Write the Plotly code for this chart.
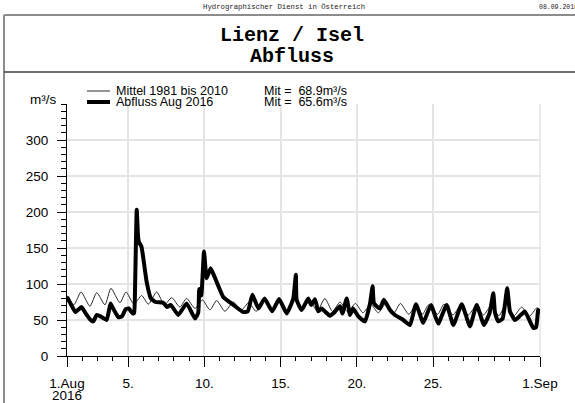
import plotly.graph_objects as go

# Mean hydrograph 1981-2010, days since 1 Aug 00:00 -> m³/s
mittel_tag = [0.0, 0.45, 0.92, 1.5, 1.95, 2.49, 2.88, 3.47, 3.87, 4.38, 4.89, 5.33, 5.88,
              6.38, 6.86, 7.4, 7.84, 8.39, 8.87, 9.37, 9.81, 10.35, 10.9, 11.4, 11.9,
              12.4, 12.9, 13.4, 13.9, 14.4, 14.9, 15.4, 15.9, 16.4, 16.9, 17.4, 17.9,
              18.4, 18.9, 19.4, 19.9, 20.4, 20.9, 21.4, 21.85, 22.4, 22.85, 23.3, 23.7,
              24.3, 24.7, 25.3, 25.8, 26.3, 26.8, 27.3, 27.8, 28.3, 28.8, 29.3, 29.8,
              30.3, 30.8, 31.0]
mittel_q = [84, 71, 89, 69, 88, 71, 94, 74, 89, 72, 84, 72, 89,
            71, 81, 68, 80, 66, 78, 64, 77, 62, 75, 63, 74,
            62, 78, 63, 77, 62, 78, 63, 78, 62, 80, 62, 75,
            61, 73, 60, 72, 60, 73, 59, 73, 58, 70, 58, 71,
            58, 72, 57, 70, 57, 69, 57, 70, 56, 72, 56, 68,
            55, 67, 64]

# Discharge August 2016
abfluss_tag = [0.0, 0.3, 0.55, 0.95, 1.2, 1.55, 1.72, 1.95, 2.2, 2.6, 2.85, 3.05, 3.36,
               3.6, 3.85, 4.05, 4.3, 4.4, 4.46, 4.57, 4.66, 4.72, 4.88, 5.22, 5.5, 5.8,
               6.3, 6.55, 6.8, 7.29, 7.84, 8.39, 8.6, 8.67, 8.8, 8.98, 9.15, 9.41, 9.63,
               10.24, 10.9, 11.55, 11.85, 12.15, 12.55, 12.95, 13.45, 13.9, 14.4, 14.83,
               15.0, 15.05, 15.38, 15.81, 16.0, 16.25, 16.47, 16.7, 16.9, 17.23, 17.5,
               17.89, 18.05, 18.33, 18.55, 18.75, 19.09, 19.53, 19.86, 20.03, 20.12,
               20.51, 20.77, 21.17, 21.49, 22.04, 22.48, 22.87, 23.35, 23.85, 24.33,
               24.88, 25.32, 25.87, 26.41, 26.85, 27.33, 27.7, 27.94, 28.05, 28.26,
               28.55, 28.85, 29.03, 29.36, 29.65, 30.01, 30.56, 30.75, 30.88, 31.0]
abfluss_q = [82, 70, 61, 68, 60, 50, 48, 57, 55, 50, 73, 65, 54,
             55, 65, 66, 59, 60, 95, 203, 165, 158, 152, 103, 80, 75,
             74, 68, 71, 57, 73, 52, 60, 93, 84, 145, 108, 122, 112,
             82, 71, 61, 62, 85, 66, 80, 62, 79, 59, 80,
             113, 78, 64, 80, 71, 79, 62, 66, 62, 56, 60,
             69, 59, 80, 57, 66, 55, 48, 73, 97, 73,
             66, 78, 64, 57, 50, 43, 72, 46, 71, 45,
             71, 43, 72, 41, 71, 43, 60, 87, 60, 48,
             52, 94, 62, 50, 55, 62, 39, 40, 64, 59]

tick_tage = [0, 4, 9, 14, 19, 24, 31]
tick_texte = ["1.Aug", "5.", "10.", "15.", "20.", "25.", "1.Sep"]
jahr = "2016"
y_ticks = [0, 50, 100, 150, 200, 250, 300]

W, H = 575, 403
L, R, T, B = 67, 35, 104, 47
PW, PH = W - L - R, H - T - B


def px(x):
    return (x - L) / PW


def py(y):
    return (H - B - y) / PH


SANS = "Liberation Sans, Arial, sans-serif"
MONO = "Liberation Mono, Courier New, monospace"

fig = go.Figure()
fig.add_trace(go.Scatter(x=mittel_tag, y=mittel_q, mode="lines",
                         line=dict(color="#2a2a2a", width=1, shape="spline", smoothing=0.6),
                         showlegend=False))
fig.add_trace(go.Scatter(x=abfluss_tag, y=abfluss_q, mode="lines",
                         line=dict(color="black", width=4, shape="spline", smoothing=0.4),
                         showlegend=False))

grid = "#e4e4e4"
fig.update_xaxes(range=[0, 31], tickmode="array", tickvals=tick_tage, ticktext=tick_texte,
                 ticks="outside", ticklen=10, tickwidth=1, tickcolor="black",
                 showline=True, linecolor="black", linewidth=1.2,
                 showgrid=True, gridcolor=grid, gridwidth=1.5, zeroline=False,
                 automargin=False, ticklabelstandoff=5,
                 minor=dict(tick0=0, dtick=1, ticks="outside", ticklen=4,
                            tickcolor="black", tickwidth=1, showgrid=False),
                 tickfont=dict(family=SANS, size=13.5, color="black"))
fig.update_yaxes(range=[0, 350], tickmode="array", tickvals=y_ticks,
                 ticks="outside", ticklen=9, tickwidth=1, tickcolor="black",
                 showline=True, linecolor="black", linewidth=1.2,
                 showgrid=True, gridcolor=grid, gridwidth=1.5, zeroline=False,
                 automargin=False, ticklabelstandoff=6,
                 minor=dict(tick0=0, dtick=10, ticks="outside", ticklen=5,
                            tickcolor="black", tickwidth=1, showgrid=False),
                 tickfont=dict(family=SANS, size=13.5, color="black"))

shapes = [
    # outer frame and title divider
    dict(type="line", xref="paper", yref="paper", x0=px(4), x1=px(4), y0=py(15), y1=py(410),
         line=dict(color="#8c8c8c", width=2)),
    dict(type="line", xref="paper", yref="paper", x0=px(4), x1=px(590), y0=py(15), y1=py(15),
         line=dict(color="#8c8c8c", width=2)),
    dict(type="line", xref="paper", yref="paper", x0=px(4), x1=px(590), y0=py(72), y1=py(72),
         line=dict(color="#404040", width=1.5)),
    # right edge grid line
    dict(type="line", xref="paper", yref="paper", x0=1, x1=1, y0=0, y1=1,
         line=dict(color=grid, width=1.5), layer="below"),
    # legend samples
    dict(type="line", xref="paper", yref="paper", x0=px(87), x1=px(110), y0=py(91), y1=py(91),
         line=dict(color="#2a2a2a", width=1)),
    dict(type="line", xref="paper", yref="paper", x0=px(87), x1=px(110), y0=py(102), y1=py(102),
         line=dict(color="black", width=4)),
]

annos = [
    dict(x=px(284), y=py(7), text="Hydrographischer Dienst in Österreich",
         font=dict(family=MONO, size=7.3, color="#222"), xanchor="center"),
    dict(x=px(537), y=py(7), text="08.09.2016 11:15",
         font=dict(family=MONO, size=6.5, color="#222"), xanchor="left"),
    dict(x=px(292), y=py(35), text="<b>Lienz / Isel</b>",
         font=dict(family=MONO, size=20, color="black"), xanchor="center"),
    dict(x=px(292), y=py(56), text="<b>Abfluss</b>",
         font=dict(family=MONO, size=20, color="black"), xanchor="center"),
    dict(x=px(28), y=py(99), text="m³/s",
         font=dict(family=SANS, size=13.5, color="black"), xanchor="left"),
    dict(x=px(114), y=py(91), text="Mittel 1981 bis 2010",
         font=dict(family=SANS, size=12.5, color="black"), xanchor="left"),
    dict(x=px(114), y=py(102), text="Abfluss Aug 2016",
         font=dict(family=SANS, size=12.5, color="black"), xanchor="left"),
    dict(x=px(262), y=py(91), text="Mit =\u00a0\u00a068.9m³/s",
         font=dict(family=SANS, size=12.5, color="black"), xanchor="left"),
    dict(x=px(262), y=py(102), text="Mit =\u00a0\u00a065.6m³/s",
         font=dict(family=SANS, size=12.5, color="black"), xanchor="left"),
    # year under the first date tick
    dict(x=0, y=py(396), text=jahr,
         font=dict(family=SANS, size=13.5, color="black"), xanchor="center"),
]
for a in annos:
    a.update(xref="paper", yref="paper", yanchor="middle", showarrow=False)

fig.update_layout(width=W, height=H, margin=dict(l=L, r=R, t=T, b=B),
                  paper_bgcolor="white", plot_bgcolor="white",
                  shapes=shapes, annotations=annos, showlegend=False)

fig.write_html("out.html")
